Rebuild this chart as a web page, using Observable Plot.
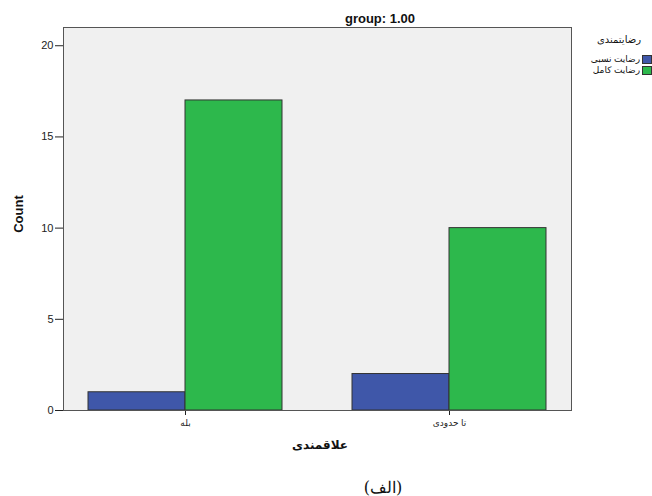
<!DOCTYPE html>
<html><head><meta charset="utf-8">
<script src="https://cdn.jsdelivr.net/npm/d3@7"></script>
<script src="https://cdn.jsdelivr.net/npm/@observablehq/plot@0.6"></script>
<style>
body{margin:0;background:#fff;}
#wrap{position:relative;width:652px;height:496px;font-family:"Liberation Sans","DejaVu Sans",Arial,sans-serif;color:#111;}
.ov{position:absolute;white-space:nowrap;transform:translate(-50%,-50%);}
.leg{position:absolute;right:11px;font-size:9px;white-space:nowrap;display:flex;align-items:center;gap:2px;line-height:10px;}
.sw{width:8px;height:7px;border:1px solid #333;display:inline-block;}
</style></head><body><div id="wrap"></div>
<script>
const categories = ["بله", "تا حدودی"];
const seriesNames = ["رضایت نسبی", "رضایت کامل"];
const nesbiValues = [1, 2];
const kamelValues = [17, 10];
const yTicks = [0, 5, 10, 15, 20];
const colors = ["#3f57a9", "#2db84c"];
const legendTitle = "رضایتمندی";
const titleText = "group: 1.00";
const xLabel = "علاقمندی";
const yLabel = "Count";
const caption = "(الف)";

const data = categories.flatMap((c, i) => [
  {cat: c, s: seriesNames[0], v: nesbiValues[i]},
  {cat: c, s: seriesNames[1], v: kamelValues[i]}
]);

const chart = Plot.plot({
  width: 652, height: 496,
  marginTop: 27, marginBottom: 86, marginLeft: 63, marginRight: 80,
  style: {fontFamily: "Liberation Sans, DejaVu Sans, Arial, sans-serif", fontSize: "11px", background: "transparent", color: "#222"},
  fx: {domain: categories, paddingInner: 0.0756, paddingOuter: 0, label: null},
  x: {domain: seriesNames, paddingInner: 0, paddingOuter: 0.247, axis: null},
  y: {domain: [0, 21], label: null},
  color: {domain: seriesNames, range: colors},
  marks: [
    Plot.frame({facet: "super", fill: "#f0f0f0", stroke: "none"}),
    Plot.barY(data, {fx: "cat", x: "s", y: "v", fill: "s", stroke: "#333", strokeWidth: 1, inset: 0}),
    Plot.axisY({ticks: yTicks, tickSize: 8, tickPadding: 2, label: null, fontSize: 11}),
    Plot.axisFx({anchor: "bottom", tickSize: 5, tickPadding: 4, label: null, fontSize: 9}),
    Plot.frame({facet: "super", stroke: "#555", strokeWidth: 1})
  ]
});
const wrap = document.getElementById("wrap");
wrap.appendChild(chart);

function ov(text, x, y, css) {
  const d = document.createElement("div");
  d.className = "ov";
  d.textContent = text;
  d.style.left = x + "px"; d.style.top = y + "px";
  Object.assign(d.style, css || {});
  wrap.appendChild(d);
  return d;
}
ov(titleText, 380, 18, {fontWeight: "bold", fontSize: "13px"});
ov(yLabel, 18, 214, {fontWeight: "bold", fontSize: "13px", transform: "translate(-50%,-50%) rotate(-90deg)"});
ov(xLabel, 320, 445, {fontWeight: "bold", fontSize: "12px", direction: "rtl"});
ov(caption, 383, 487, {fontSize: "16px", fontFamily: "'DejaVu Serif','Noto Sans',serif", direction: "rtl"});

const lt = document.createElement("div");
lt.className = "leg"; lt.style.top = "35px"; lt.style.fontSize = "10px";
lt.textContent = legendTitle;
wrap.appendChild(lt);
seriesNames.forEach((s, i) => {
  const e = document.createElement("div");
  e.className = "leg";
  e.style.top = (54 + i * 11) + "px";
  e.style.right = "0px";
  const t = document.createElement("span");
  t.textContent = s;
  t.style.direction = "rtl";
  const sw = document.createElement("span");
  sw.className = "sw"; sw.style.background = colors[i];
  e.appendChild(t); e.appendChild(sw);
  wrap.appendChild(e);
});
</script></body></html>
